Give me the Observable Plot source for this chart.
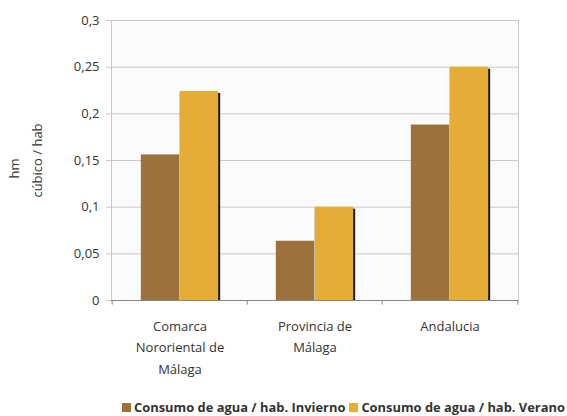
<!DOCTYPE html>
<html>
<head>
<meta charset="utf-8">
<script src="https://cdn.jsdelivr.net/npm/d3@7"></script>
<script src="https://cdn.jsdelivr.net/npm/@observablehq/plot@0.6"></script>
<style>
  html, body { margin: 0; padding: 0; background: #fff; }
  #wrap { position: relative; width: 567px; height: 416px; overflow: hidden; font-family: "Open Sans", sans-serif; }
  #legend { position: absolute; left: 122px; top: 398px; white-space: nowrap; font-size: 12.9px; font-weight: 700; color: #333; display: flex; align-items: center; }
  #legend .sw { display: inline-block; width: 9px; height: 9px; margin-right: 3px; }
  #legend .item { display: inline-flex; align-items: center; margin-right: 4px; }
</style>
</head>
<body>
<div id="wrap"><div id="chart"></div><div id="legend"></div></div>
<script>
const categories = ["Comarca\nNororiental de\nMálaga", "Provincia de\nMálaga", "Andalucia"];
const series = ["Consumo de agua / hab. Invierno", "Consumo de agua / hab. Verano"];
const invierno = [0.156, 0.0635, 0.188];
const verano = [0.224, 0.1, 0.25];
const yTicks = [0, 0.05, 0.1, 0.15, 0.2, 0.25, 0.3];
const colors = ["#9b723b", "#e6ad36"];

const W = 567, H = 395, ML = 111, MR = 49, MT = 20, MB = 95;
const step = (W - ML - MR) / categories.length;
const outer = step * 0.2125;
const half = step / 2;

const dataInv = categories.map((c, i) => ({cat: c, v: invierno[i]}));
const dataVer = categories.map((c, i) => ({cat: c, v: verano[i]}));

const grid = "#cec7c3";
const txt = "#333333";

const plot = Plot.plot({
  width: W, height: H,
  marginLeft: ML, marginRight: MR, marginTop: MT, marginBottom: MB,
  style: {fontFamily: "Open Sans, sans-serif", background: "transparent"},
  x: {type: "band", domain: categories, padding: 0},
  y: {domain: [0, 0.3]},
  marks: [
    Plot.frame({fill: "#fafbfd", stroke: null}),
    Plot.gridY(yTicks, {stroke: grid, strokeOpacity: 1}),
    Plot.frame({stroke: grid}),
    Plot.barY(dataInv, {x: "cat", y: "v", fill: colors[0], insetLeft: outer, insetRight: half}),
    Plot.barY(dataVer, {x: "cat", y: "v", fill: "#1c1a18", insetLeft: half, insetRight: outer - 2, insetTop: 2}),
    Plot.barY(dataVer, {x: "cat", y: "v", fill: colors[1], insetLeft: half, insetRight: outer}),
    Plot.ruleY([0], {stroke: "#8e847e", strokeWidth: 1.2}),
    Plot.ruleX(categories, {x: d => d, dx: -half, y1: 0, y2: -0.005, stroke: "#8e847e"}),
    Plot.ruleX([categories[categories.length - 1]], {x: d => d, dx: half, y1: 0, y2: -0.005, stroke: "#8e847e"}),
    Plot.axisY(yTicks, {tickFormat: d => String(d).replace(".", ","), tickSize: 5, tickPadding: 7, stroke: grid, fill: txt, fontSize: 13, label: null}),
    Plot.axisX({tickSize: 0, tickPadding: 15, lineHeight: 1.65, fontSize: 13, fill: txt, label: null}),
    Plot.text(["hm"], {frameAnchor: "left", textAnchor: "middle", dx: -97, dy: 8, rotate: -90, fontSize: 13, fill: txt}),
    Plot.text(["cúbico / hab"], {frameAnchor: "left", textAnchor: "middle", dx: -74, rotate: -90, fontSize: 13, fill: txt})
  ]
});
document.getElementById("chart").appendChild(plot);

const legend = document.getElementById("legend");
series.forEach((s, i) => {
  const item = document.createElement("span");
  item.className = "item";
  const sw = document.createElement("span");
  sw.className = "sw";
  sw.style.background = colors[i];
  item.appendChild(sw);
  item.appendChild(document.createTextNode(s));
  legend.appendChild(item);
});
</script>
</body>
</html>
